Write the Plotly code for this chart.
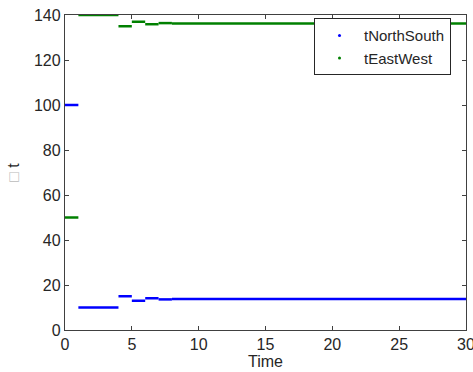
import plotly.graph_objects as go

# Segment boundaries in time (start, end)
seg_start = [0, 1, 4, 5, 6, 7, 8]
seg_end = [1, 4, 5, 6, 7, 8, 30]
# Values on each segment
t_north_south = [100, 10, 15, 13, 14.1, 13.6, 13.8]
t_east_west = [50, 140, 135, 137, 135.9, 136.4, 136.2]

x_ticks = [0, 5, 10, 15, 20, 25, 30]
y_ticks = [0, 20, 40, 60, 80, 100, 120, 140]


def segments(starts, ends, vals):
    xs, ys = [], []
    for s, e, v in zip(starts, ends, vals):
        xs += [s, e, None]
        ys += [v, v, None]
    return xs, ys


FONT = "Liberation Sans, Arial"
TXT = "#262626"

fig = go.Figure()
xb, yb = segments(seg_start, seg_end, t_north_south)
xg, yg = segments(seg_start, seg_end, t_east_west)
fig.add_trace(go.Scatter(x=xb, y=yb, mode="lines", line=dict(color="#0000ff", width=2.5),
                         showlegend=False, connectgaps=False, cliponaxis=False))
fig.add_trace(go.Scatter(x=xg, y=yg, mode="lines", line=dict(color="#008000", width=2.5),
                         showlegend=False, connectgaps=False, cliponaxis=False))
fig.add_trace(go.Scatter(x=[None], y=[None], mode="markers", name="tNorthSouth",
                         marker=dict(color="#0000ff", size=3)))
fig.add_trace(go.Scatter(x=[None], y=[None], mode="markers", name="tEastWest",
                         marker=dict(color="#008000", size=3)))

axis_common = dict(
    showgrid=False, zeroline=False, showline=True, linecolor="#404040", linewidth=1.3,
    mirror="ticks", ticks="inside", ticklen=4, tickcolor="#404040", layer="below traces",
    tickfont=dict(family=FONT, size=16, color=TXT), ticklabeloverflow="allow",
    automargin=False,
)
fig.update_xaxes(range=[0, 30], tickvals=x_ticks,
                 title=dict(text="Time", font=dict(family=FONT, size=16, color=TXT), standoff=0),
                 **axis_common)
fig.update_yaxes(range=[0, 140], tickvals=y_ticks,
                 title=dict(text="<span style='color:#bbbbbb'>□</span> t",
                            font=dict(family=FONT, size=16, color=TXT), standoff=10),
                 **axis_common)

fig.update_layout(
    width=473, height=372,
    margin=dict(l=65, r=7, t=15, b=42, autoexpand=False),
    plot_bgcolor="white", paper_bgcolor="white",
    hovermode=False,
    legend=dict(x=0.621, y=0.99, xanchor="left", yanchor="top",
                bgcolor="white", bordercolor="#262626", borderwidth=1,
                font=dict(family=FONT, size=15, color=TXT),
                itemwidth=39, tracegroupgap=0),
)

fig.write_html(
    "out.html",
    config={"displayModeBar": False},
    post_script="document.body.style.margin='0';document.documentElement.style.overflow='hidden';",
)
